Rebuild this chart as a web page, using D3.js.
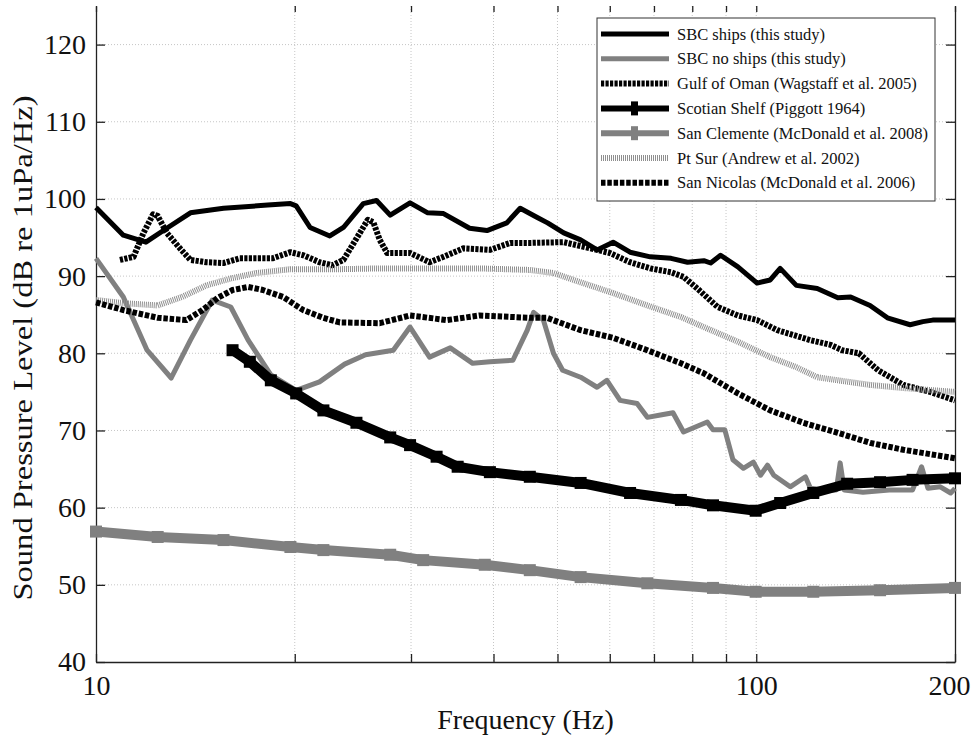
<!DOCTYPE html>
<html>
<head>
<meta charset="utf-8">
<script src="https://cdn.jsdelivr.net/npm/d3@7"></script>
<style>
  body { margin: 0; background: #fff; }
  svg { display: block; font-family: "Liberation Serif", "Times New Roman", serif; }
</style>
</head>
<body>
<svg id="chart" width="975" height="736"></svg>
<script>
// values: frequency (Hz) and level (dB re 1uPa/Hz)
var shipsHz = [10.0, 11.0, 11.9, 12.8, 13.9, 15.6, 18.2, 19.7, 20.1, 21.1, 22.6, 23.7, 25.4, 26.6, 27.9, 29.9, 31.8, 33.6, 36.8, 39.1, 41.9, 43.9, 46.6, 48.3, 51.1, 54.2, 57.4, 60.7, 64.4, 69.1, 74.3, 78.7, 83.3, 85.3, 88.3, 93.8, 100.3, 105, 108.7, 115, 123.7, 132.9, 139, 148.7, 158, 171, 178.8, 185, 200];
var shipsDb = [98.9, 95.3, 94.4, 96.2, 98.2, 98.8, 99.2, 99.4, 99.1, 96.3, 95.2, 96.3, 99.4, 99.8, 97.9, 99.5, 98.2, 98.1, 96.2, 95.9, 96.9, 98.8, 97.6, 96.9, 95.6, 94.7, 93.4, 94.4, 93.1, 92.5, 92.3, 91.8, 92.0, 91.7, 92.7, 91.2, 89.1, 89.5, 91.0, 88.8, 88.4, 87.2, 87.3, 86.2, 84.6, 83.7, 84.1, 84.3, 84.3];

var noShipsHz = [10.0, 11.0, 11.95, 13.0, 13.9, 15.0, 16.0, 17.0, 18.4, 20.1, 21.8, 23.8, 25.6, 28.2, 29.9, 32.0, 34.4, 37.2, 39.5, 42.8, 45.0, 46.0, 47.6, 49.3, 50.9, 54.2, 57.4, 59.4, 62.2, 66.0, 68.4, 71.6, 74.8, 77.6, 84.3, 86.0, 89.6, 92.2, 95.6, 99.0, 101.5, 104.0, 106.3, 112.6, 118.7, 120.8, 127.3, 132.2, 134, 135.9, 145.1, 159, 172.5, 178, 182, 190, 197, 200];
var noShipsDb = [92.3, 87.3, 80.4, 76.8, 81.7, 86.9, 86.0, 81.7, 77.2, 75.2, 76.3, 78.6, 79.8, 80.4, 83.4, 79.5, 80.7, 78.7, 78.9, 79.1, 83.0, 85.3, 84.3, 80.0, 77.8, 76.9, 75.6, 76.5, 73.9, 73.5, 71.7, 72.0, 72.3, 69.8, 71.1, 70.1, 70.1, 66.2, 65.1, 65.9, 64.2, 65.5, 64.2, 62.7, 64.0, 62.5, 62.3, 62.3, 65.8, 62.3, 62.0, 62.3, 62.3, 65.3, 62.5, 62.7, 61.9, 62.5];

var omanHz = [10.87, 11.4, 11.8, 12.2, 12.4, 12.8, 13.4, 13.9, 14.7, 15.6, 16.5, 18.5, 19.7, 20.6, 21.8, 22.8, 23.7, 25.1, 25.8, 26.3, 26.9, 27.6, 29.9, 32.0, 33.6, 36.0, 39.5, 42.4, 45.4, 51.1, 56.1, 60.0, 64.4, 69.1, 74.3, 77.6, 81.4, 87.4, 93.8, 100.3, 107.6, 120.8, 129.5, 134.9, 143, 153, 167, 183.4, 200];
var omanDb = [92.1, 92.5, 95.6, 98.0, 97.8, 95.6, 93.6, 92.1, 91.8, 91.7, 92.3, 92.3, 93.1, 92.7, 91.8, 91.4, 92.1, 95.6, 97.3, 97.0, 94.7, 93.0, 93.0, 91.8, 92.5, 93.6, 93.4, 94.3, 94.3, 94.4, 93.6, 93.0, 91.8, 91.0, 90.5, 89.9, 88.4, 86.0, 84.9, 84.3, 83.0, 81.7, 81.1, 80.4, 80.0, 77.8, 75.9, 75.0, 73.9];

var scotianHz = [16.1, 17.1, 18.4, 20.1, 22.1, 24.8, 27.9, 29.9, 32.8, 35.3, 39.5, 45.4, 54.2, 64.4, 76.9, 86.0, 99.8, 108.7, 122, 137.3, 154, 172.5, 200];
var scotianDb = [80.4, 78.9, 76.5, 74.8, 72.6, 71.0, 69.1, 68.1, 66.6, 65.3, 64.6, 64.0, 63.2, 61.9, 61.0, 60.3, 59.6, 60.6, 61.9, 63.1, 63.3, 63.6, 63.8];

var clementeHz = [10, 12.4, 15.6, 19.7, 22.1, 27.9, 31.3, 38.8, 45.4, 54.2, 68.4, 86.0, 99.8, 122, 154, 200];
var clementeDb = [56.9, 56.2, 55.8, 54.9, 54.5, 53.9, 53.2, 52.6, 51.9, 51.0, 50.2, 49.6, 49.1, 49.1, 49.3, 49.6];

var surHz = [10, 11.0, 12.4, 13.5, 14.7, 16.0, 17.5, 19.7, 23.4, 26.9, 38.1, 45.4, 49.3, 54.2, 60.7, 68.4, 76.9, 83.3, 93.8, 105, 115, 123.7, 132.9, 148.7, 167, 200];
var surDb = [86.9, 86.5, 86.2, 87.3, 88.8, 89.7, 90.4, 90.9, 90.9, 91.0, 91.0, 90.8, 90.4, 89.2, 87.8, 86.2, 84.7, 83.4, 81.5, 79.5, 78.2, 76.9, 76.5, 75.9, 75.5, 75.0];

var nicolasHz = [10, 11.0, 12.4, 13.7, 14.5, 15.3, 16.1, 17.0, 17.9, 19.2, 20.6, 22.1, 23.4, 26.9, 29.9, 34.0, 38.1, 45.4, 48.2, 54.2, 60.7, 68.4, 76.9, 83.3, 93.8, 105, 117.9, 132.9, 148.7, 167, 200];
var nicolasDb = [86.6, 85.6, 84.6, 84.3, 85.6, 87.2, 88.2, 88.6, 88.2, 87.3, 85.6, 84.6, 84.0, 83.9, 84.9, 84.3, 84.9, 84.6, 84.6, 83.0, 82.0, 80.4, 78.7, 77.4, 74.8, 72.6, 71.0, 69.7, 68.4, 67.5, 66.4];

var seriesNames = ["SBC ships (this study)", "SBC no ships (this study)", "Gulf of Oman (Wagstaff et al. 2005)",
                   "Scotian Shelf  (Piggott 1964)", "San Clemente (McDonald et al. 2008)", "Pt Sur (Andrew et al. 2002)",
                   "San Nicolas (McDonald et al. 2006)"];
var yTicks = [40, 50, 60, 70, 80, 90, 100, 110, 120];
var xTicks = [10, 20, 30, 40, 50, 60, 70, 80, 90, 100, 200];
var xLabels = [10, 100, 200];

// how each series is drawn, same order as the legend
var styles = [
    {color: "#000", width: 5},
    {color: "#808080", width: 5},
    {color: "#000", width: 6, dash: "3.2,1.3"},
    {color: "#000", width: 10, marker: 12},
    {color: "#808080", width: 10, marker: 12},
    {color: "#8f8f8f", width: 6, dash: "1,1"},
    {color: "#000", width: 6, dash: "4.5,1.8"}
];
var series = [
    d3.zip(shipsHz, shipsDb), d3.zip(noShipsHz, noShipsDb), d3.zip(omanHz, omanDb),
    d3.zip(scotianHz, scotianDb), d3.zip(clementeHz, clementeDb), d3.zip(surHz, surDb),
    d3.zip(nicolasHz, nicolasDb)
];

var svg = d3.select("#chart");
var plotL = 96, plotR = 955, plotT = 6, plotB = 662;

var x = d3.scaleLog().domain([10, 200]).range([plotL, plotR]);
var y = d3.scaleLinear().domain([40, 125]).range([plotB, plotT]);

// dotted grid
var grid = svg.append("g").attr("stroke", "#b8b8b8").attr("stroke-width", 0.8).attr("stroke-dasharray", "1,2");
grid.selectAll("line.h").data(yTicks.slice(1)).enter().append("line")
    .attr("x1", plotL).attr("x2", plotR)
    .attr("y1", function(d){ return y(d); }).attr("y2", function(d){ return y(d); });
grid.selectAll("line.v").data(xTicks.slice(1, 10)).enter().append("line")
    .attr("y1", plotT).attr("y2", plotB)
    .attr("x1", function(d){ return x(d); }).attr("x2", function(d){ return x(d); });

// axes, ticks pointing inward like matlab
var fmt = function(d){ return xLabels.indexOf(d) >= 0 ? d : ""; };
var gx = svg.append("g").attr("transform", "translate(0," + plotB + ")")
    .call(d3.axisBottom(x).tickValues(xTicks).tickFormat(fmt).tickSizeInner(-8).tickSizeOuter(0).tickPadding(13));
var gxTop = svg.append("g").attr("transform", "translate(0," + plotT + ")")
    .call(d3.axisTop(x).tickValues(xTicks).tickFormat("").tickSizeInner(-6).tickSizeOuter(0));
gxTop.select(".domain").remove();
var gy = svg.append("g").attr("transform", "translate(" + plotL + ",0)")
    .call(d3.axisLeft(y).tickValues(yTicks).tickSizeInner(-9).tickSizeOuter(0).tickPadding(10));
var gyRight = svg.append("g").attr("transform", "translate(" + plotR + ",0)")
    .call(d3.axisRight(y).tickValues(yTicks).tickFormat("").tickSizeInner(-9).tickSizeOuter(0));

[gx, gxTop, gy, gyRight].forEach(function(g){
    g.attr("font-family", null).attr("font-size", 28);
    g.selectAll(".domain").attr("stroke", "#222").attr("stroke-width", 1.3);
    g.selectAll(".tick line").attr("stroke", "#222").attr("stroke-width", 1.3);
    g.selectAll("text").attr("fill", "#111");
});
// last label sits inside the window
gx.selectAll(".tick text").filter(function(d){ return d === 200; }).attr("dx", -6);

svg.append("text").attr("x", (plotL + plotR) / 2).attr("y", 729)
    .attr("text-anchor", "middle").attr("font-size", 28).attr("fill", "#111")
    .text("Frequency (Hz)");
svg.append("text").attr("transform", "translate(32,348) rotate(-90)")
    .attr("text-anchor", "middle").attr("font-size", 28).attr("fill", "#111")
    .attr("textLength", 505).attr("lengthAdjust", "spacingAndGlyphs")
    .text("Sound Pressure Level (dB re 1uPa/Hz)");

// curves
var line = d3.line().x(function(d){ return x(d[0]); }).y(function(d){ return y(d[1]); });
var plot = svg.append("g");
series.forEach(function(data, i){
    var s = styles[i];
    plot.append("path").datum(data)
        .attr("d", line).attr("fill", "none")
        .attr("stroke", s.color).attr("stroke-width", s.width)
        .attr("stroke-dasharray", s.dash || null)
        .attr("stroke-linejoin", "round");
    if (s.marker) {
        plot.selectAll(null).data(data).enter().append("rect")
            .attr("x", function(d){ return x(d[0]) - s.marker / 2; })
            .attr("y", function(d){ return y(d[1]) - s.marker / 2; })
            .attr("width", s.marker).attr("height", s.marker)
            .attr("fill", s.color);
    }
});

// legend
var lg = svg.append("g");
lg.append("rect").attr("x", 597).attr("y", 18).attr("width", 338).attr("height", 183)
    .attr("fill", "#fff").attr("stroke", "#333").attr("stroke-width", 1);
seriesNames.forEach(function(name, i){
    var s = styles[i], ly = 34 + i * 24.8;
    lg.append("line").attr("x1", 601).attr("x2", 669).attr("y1", ly).attr("y2", ly)
        .attr("stroke", s.color).attr("stroke-width", s.marker ? 6 : s.width)
        .attr("stroke-dasharray", s.dash || null);
    if (s.marker) {
        lg.append("rect").attr("x", 631).attr("y", ly - 7).attr("width", 7).attr("height", 14).attr("fill", s.color);
    }
    lg.append("text").attr("x", 677).attr("y", ly + 5.5)
        .attr("font-size", 16.5).attr("fill", "#111").text(name);
});
</script>
</body>
</html>
